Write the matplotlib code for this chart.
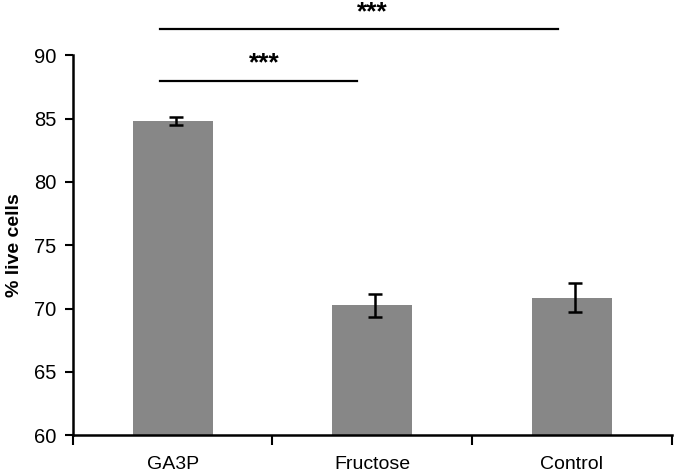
import numpy as np
import matplotlib.pyplot as plt

categories = ["GA3P", "Fructose", "Control"]
live_pct = [84.8, 70.25, 70.85]
live_err = [0.3, 0.9, 1.15]
ytick_vals = [60, 65, 70, 75, 80, 85, 90]

# significance brackets: (x start, x end, height, label x, label)
sig_pairs = [(-0.065, 0.925, 88.0, 0.46, "***"),
             (-0.065, 1.93, 92.05, 1.0, "***")]

plt.rcParams["font.family"] = ["Liberation Sans", "DejaVu Sans"]

fig = plt.figure(figsize=(6.75, 4.73), dpi=100)
ax = fig.add_axes([0.108, 0.080, 0.887, 0.803])

x = np.arange(len(categories))
ax.bar(x, live_pct, width=0.4, color="#878787", zorder=2)
ax.errorbar(x + 0.015, live_pct, yerr=live_err, fmt="none", ecolor="black",
            elinewidth=1.8, capsize=5, capthick=1.8, zorder=3)

ax.set_xlim(-0.5, len(categories) - 0.5)
ax.set_ylim(60, 90)
ax.set_yticks(ytick_vals)
ax.tick_params(axis="y", labelsize=14.5, direction="out", length=6, width=1.5, pad=6)

# category labels at centres, tick marks at group boundaries
ax.set_xticks(x)
ax.set_xticklabels(categories, fontsize=14)
ax.tick_params(axis="x", which="major", length=0, pad=15)
ax.set_xticks(np.arange(-0.5, len(categories), 1.0), minor=True)
ax.tick_params(axis="x", which="minor", direction="out", length=7, width=1.5)

for side in ("top", "right"):
    ax.spines[side].set_visible(False)
for side in ("left", "bottom"):
    ax.spines[side].set_linewidth(1.8)

ax.set_ylabel("% live cells", fontsize=14, fontweight="bold", labelpad=8)

for x0, x1, h, lx, lab in sig_pairs:
    ax.plot([x0, x1], [h, h], color="black", lw=1.6, clip_on=False)
    ax.text(lx, h + 0.8, lab, ha="center", va="baseline",
            fontsize=19, fontweight="bold", clip_on=False)

fig.savefig("out.png", dpi=100)
